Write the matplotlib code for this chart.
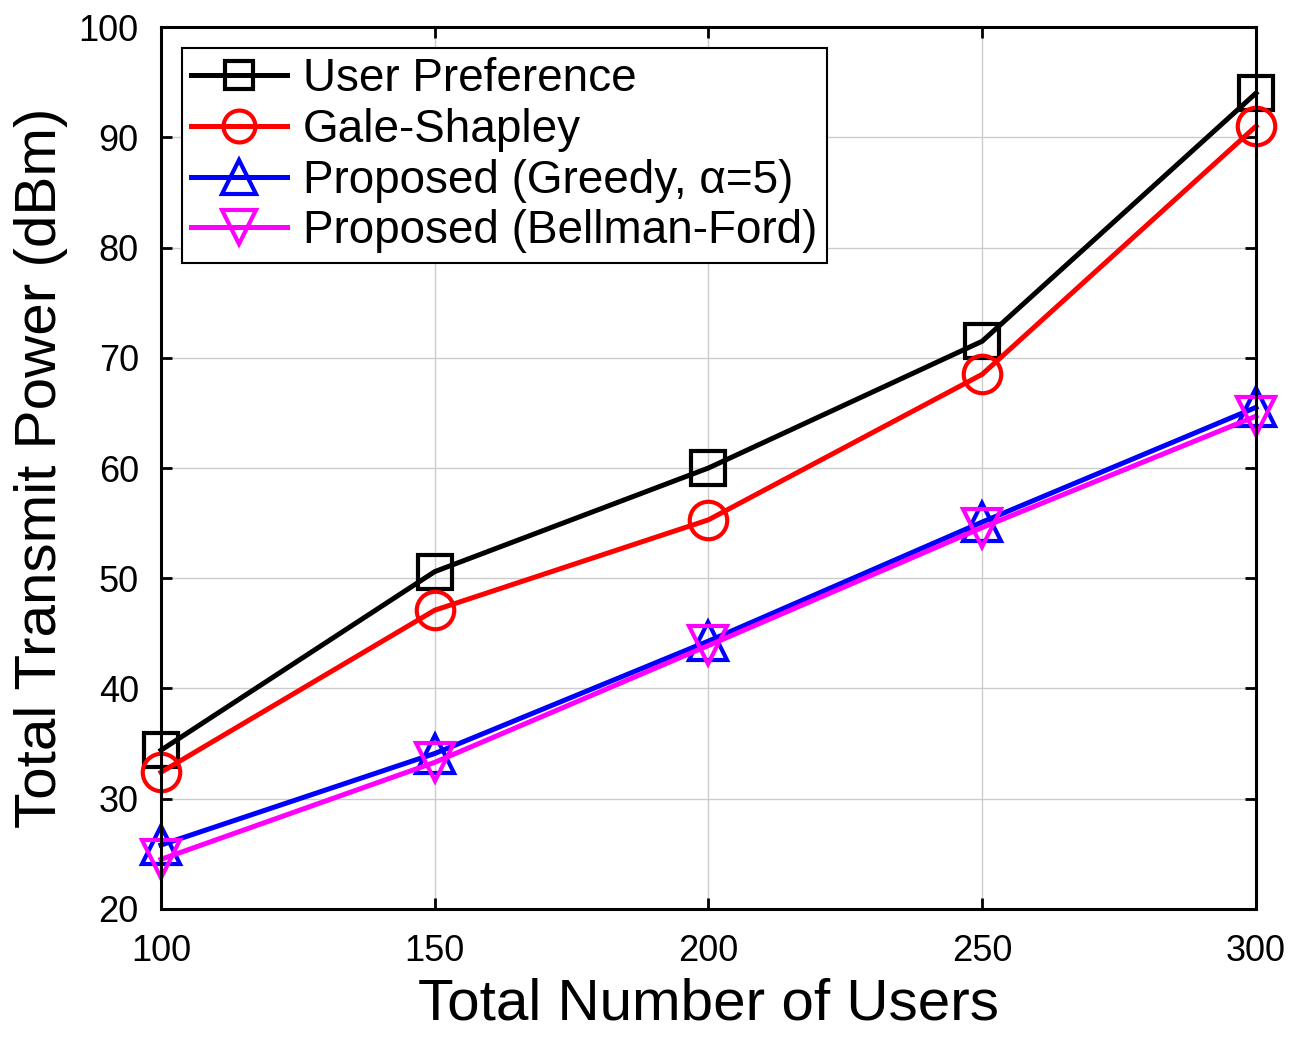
import matplotlib
matplotlib.use("Agg")
import matplotlib.pyplot as plt

users = [100, 150, 200, 250, 300]
user_pref = [34.4, 50.6, 60.0, 71.5, 94.0]
gale_shapley = [32.4, 47.1, 55.3, 68.5, 91.0]
greedy = [25.8, 34.1, 44.3, 55.1, 65.5]
bellman = [24.5, 33.3, 43.9, 54.6, 64.7]
labels = ["User Preference", "Gale-Shapley", "Proposed (Greedy, \u03b1=5)", "Proposed (Bellman-Ford)"]

plt.rcParams['font.family'] = ['Liberation Sans', 'DejaVu Sans']

fig = plt.figure(figsize=(12.94, 10.40), dpi=100)
ax = fig.add_axes([0.1244, 0.126, 0.9706 - 0.1244, 0.974 - 0.126])

lw = 3.6
common = dict(mfc='none', mew=3, lw=lw, clip_on=False, zorder=3)
ax.plot(users, user_pref, color='black', marker='s', ms=24, label=labels[0], **common)
ax.plot(users, gale_shapley, color='red', marker='o', ms=27, label=labels[1], **common)
ax.plot(users, greedy, color='blue', marker='^', ms=28, label=labels[2], **common)
ax.plot(users, bellman, color='magenta', marker='v', ms=28, label=labels[3], **common)

ax.set_xlim(100, 300)
ax.set_ylim(20, 100)
ax.set_xticks(users)
ax.set_yticks(range(20, 101, 10))
ax.grid(True, color='#cccccc', lw=1)
ax.tick_params(direction='in', length=8, width=2, labelsize=26, top=True, right=True)
ax.tick_params(axis='x', pad=18)
ax.tick_params(axis='y', pad=16)
for s in ax.spines.values():
    s.set_linewidth(2.2)
    s.set_zorder(4)

ax.set_xlabel("Total Number of Users", fontsize=42, labelpad=6)
ax.set_ylabel("Total Transmit Power (dBm)", fontsize=42, labelpad=8)

leg = ax.legend(loc='upper left', fontsize=33, markerscale=0.85, handlelength=2.1,
                fancybox=False, framealpha=1, edgecolor='black', borderpad=0.2,
                labelspacing=0.15, handletextpad=0.35, borderaxespad=0.45)
leg.get_frame().set_linewidth(1.5)
leg.set_zorder(5)

fig.savefig("out.png", dpi=100)
